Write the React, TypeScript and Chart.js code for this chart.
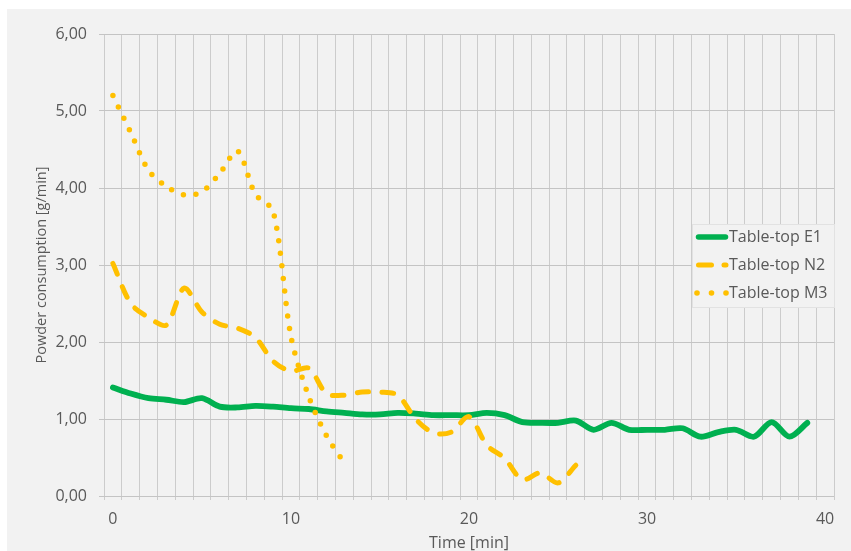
import React, { useEffect, useRef } from 'react';
import { Chart, registerables } from 'chart.js';

Chart.register(...registerables);

// ---------- data ----------
const minutes = [
  0, 1, 2, 3, 4, 5, 6, 7, 8, 9, 10, 11, 12, 13, 14, 15, 16, 17, 18, 19,
  20, 21, 22, 23, 24, 25, 26, 27, 28, 29, 30, 31, 32, 33, 34, 35, 36, 37, 38, 39,
];
const e1Values = [
  1.41, 1.33, 1.27, 1.25, 1.22, 1.27, 1.16, 1.15, 1.17, 1.16,
  1.14, 1.13, 1.10, 1.08, 1.06, 1.06, 1.08, 1.07, 1.05, 1.05,
  1.05, 1.08, 1.05, 0.96, 0.95, 0.95, 0.98, 0.86, 0.95, 0.86,
  0.86, 0.86, 0.88, 0.77, 0.83, 0.86, 0.77, 0.96, 0.77, 0.95,
];
const n2Values = [
  3.02, 2.50, 2.32, 2.22, 2.70, 2.39, 2.23, 2.18, 2.06, 1.75,
  1.62, 1.66, 1.33, 1.31, 1.35, 1.35, 1.31, 1.00, 0.82, 0.83,
  1.03, 0.66, 0.49, 0.21, 0.30, 0.17, 0.40,
];
const m3Values = [
  5.20, 4.72, 4.23, 4.02, 3.91, 3.95, 4.19, 4.48, 3.92, 3.70,
  2.07, 1.29, 0.78, 0.43,
];
const seriesNames = ['Table-top E1', 'Table-top N2', 'Table-top M3'];
const xLabelTicks = [0, 10, 20, 30, 40];
const xMin = -0.5;
const xMax = 40.5;
const yMin = 0;
const yMax = 6;
const yStep = 1;
const xTitle = 'Time [min]';
const yTitle = 'Powder consumption [g/min]';

// ---------- styles ----------
const FONT = "'Open Sans', sans-serif";
const TEXT = '#595959';
const GREEN = '#00B050';
const GOLD = '#FFC000';
const GRID_V = '#cccccc';
const GRID_H = '#c4c4c4';
const BG = '#f2f2f2';

const toPoints = (vals: number[]) => vals.map((v, i) => ({ x: minutes[i], y: v }));

const insideLegend = {
  id: 'insideLegend',
  afterDatasetsDraw(chart: any) {
    const { ctx, chartArea } = chart;
    const boxW = 143;
    const boxH = 84;
    const x0 = chartArea.right - boxW + 1;
    const y0 = chartArea.top + 190;
    ctx.save();
    ctx.fillStyle = BG;
    ctx.fillRect(x0, y0, boxW, boxH);
    ctx.strokeStyle = '#e2e2e2';
    ctx.lineWidth = 1;
    ctx.strokeRect(x0 + 0.5, y0 + 0.5, boxW - 1, boxH - 1);

    const sx0 = x0 + 4;
    const sx1 = x0 + 36;
    ctx.font = `16px ${FONT}`;
    ctx.textBaseline = 'middle';
    ctx.textAlign = 'left';
    seriesNames.forEach((name, i) => {
      const y = y0 + 13 + i * 28;
      ctx.save();
      ctx.lineCap = 'round';
      if (i === 0) {
        ctx.strokeStyle = GREEN;
        ctx.lineWidth = 5.5;
        ctx.setLineDash([]);
        ctx.beginPath();
        ctx.moveTo(sx0 + 2.5, y);
        ctx.lineTo(sx1 - 2.5, y);
        ctx.stroke();
      } else if (i === 1) {
        ctx.strokeStyle = GOLD;
        ctx.lineWidth = 5;
        ctx.setLineDash([13, 12.5]);
        ctx.beginPath();
        ctx.moveTo(sx0 + 2.5, y);
        ctx.lineTo(sx1 - 2, y);
        ctx.stroke();
      } else {
        ctx.fillStyle = GOLD;
        for (let k = 0; k < 3; k++) {
          ctx.beginPath();
          ctx.arc(sx0 + 1 + k * 14.5, y, 2.8, 0, Math.PI * 2);
          ctx.fill();
        }
      }
      ctx.restore();
      ctx.fillStyle = TEXT;
      ctx.fillText(name, x0 + 37, y + 0.5);
    });
    ctx.restore();
  },
};

export default function App() {
  const canvasRef = useRef<HTMLCanvasElement | null>(null);

  useEffect(() => {
    const canvas = canvasRef.current;
    if (!canvas) return;

    const gridValues: number[] = [];
    for (let v = xMin; v <= xMax + 1e-9; v += 1) gridValues.push(v);
    const allTicks = Array.from(new Set([...gridValues, ...xLabelTicks])).sort((a, b) => a - b);

    const chart = new Chart(canvas, {
      type: 'line',
      data: {
        datasets: [
          {
            label: seriesNames[0],
            data: toPoints(e1Values),
            borderColor: GREEN,
            backgroundColor: GREEN,
            borderWidth: 5.8,
            borderCapStyle: 'round',
            borderJoinStyle: 'round',
            pointRadius: 0,
            tension: 0.3,
            order: 3,
          },
          {
            label: seriesNames[1],
            data: toPoints(n2Values),
            borderColor: GOLD,
            backgroundColor: GOLD,
            borderWidth: 5,
            borderDash: [11.5, 13.5],
            borderCapStyle: 'round',
            borderJoinStyle: 'round',
            pointRadius: 0,
            tension: 0.3,
            order: 2,
          },
          {
            label: seriesNames[2],
            data: toPoints(m3Values),
            borderColor: GOLD,
            backgroundColor: GOLD,
            borderWidth: 5.5,
            borderDash: [0, 12.6],
            borderCapStyle: 'round',
            borderJoinStyle: 'round',
            pointRadius: 0,
            tension: 0.3,
            order: 1,
          },
        ],
      },
      options: {
        animation: false,
        responsive: true,
        maintainAspectRatio: false,
        layout: { padding: { top: 25, right: 17, bottom: 0, left: 0 } },
        plugins: {
          legend: { display: false },
          tooltip: { enabled: false },
        },
        scales: {
          x: {
            type: 'linear',
            min: xMin,
            max: xMax,
            afterBuildTicks: (axis: any) => {
              axis.ticks = allTicks.map((v) => ({ value: v }));
            },
            afterFit: (scale: any) => {
              scale.height = 55;
            },
            ticks: {
              autoSkip: false,
              maxRotation: 0,
              minRotation: 0,
              padding: 10,
              color: TEXT,
              font: { family: FONT, size: 16 },
              callback: (value: any) =>
                xLabelTicks.includes(Number(value)) ? String(value) : '',
            },
            grid: {
              color: (c: any) =>
                Number.isInteger(c.tick?.value) ? 'rgba(0,0,0,0)' : GRID_V,
              lineWidth: 1,
              tickLength: 4,
            },
            border: { display: false },
            title: {
              display: true,
              text: xTitle,
              color: TEXT,
              font: { family: FONT, size: 16, lineHeight: 1 },
              padding: { top: 0, bottom: 0 },
            },
          },
          y: {
            type: 'linear',
            min: yMin,
            max: yMax,
            afterFit: (scale: any) => {
              scale.width = 97;
            },
            ticks: {
              stepSize: yStep,
              padding: 12,
              color: TEXT,
              font: { family: FONT, size: 16 },
              callback: (value: any) => Number(value).toFixed(2).replace('.', ','),
            },
            grid: {
              color: GRID_H,
              lineWidth: 1,
              tickLength: 5,
            },
            border: { display: false },
            title: {
              display: true,
              text: yTitle,
              color: TEXT,
              font: { family: FONT, size: 14.5 },
              padding: { top: 26, bottom: 0 },
            },
          },
        },
      },
      plugins: [insideLegend],
    } as any);

    return () => {
      chart.destroy();
    };
  }, []);

  return (
    <div
      style={{
        position: 'fixed',
        left: 7,
        top: 9,
        width: 844,
        height: 542,
        background: BG,
      }}
    >
      <canvas ref={canvasRef} />
    </div>
  );
}
